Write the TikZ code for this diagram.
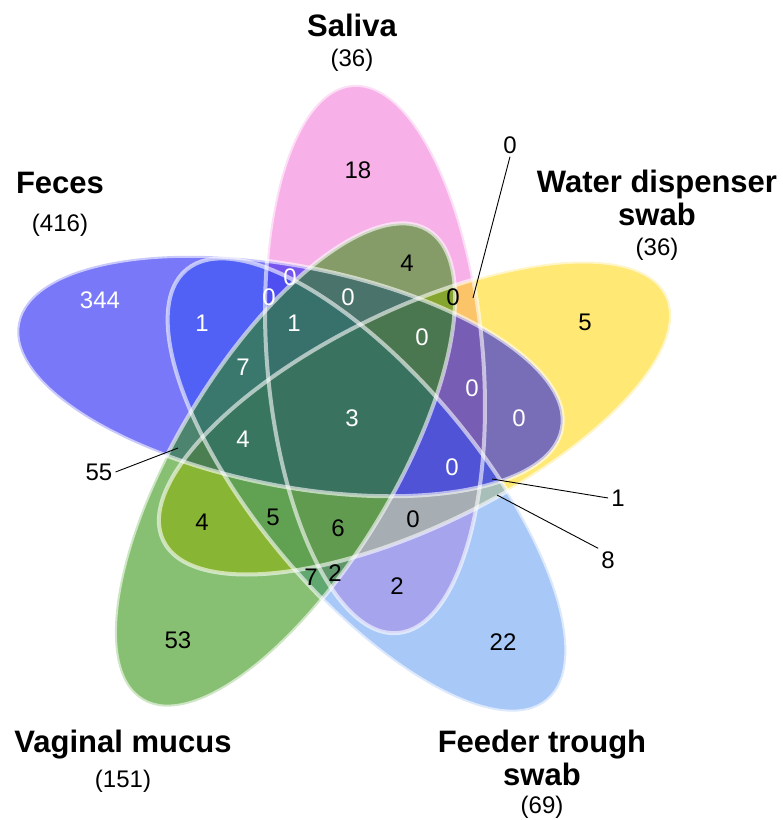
\documentclass[tikz,border=0pt]{standalone}
\usepackage{fontspec}
\setmainfont{Liberation Sans}
\usetikzlibrary{positioning}

\definecolor{feces}{RGB}{10,10,242}
\definecolor{saliva}{RGB}{242,111,213}
\definecolor{water}{RGB}{255,213,0}
\definecolor{trough}{RGB}{97,155,242}
\definecolor{mucus}{RGB}{39,141,0}

\begin{document}
\begin{tikzpicture}[
        x=1pt, y=-1pt,
        setfill/.style={fill=#1, fill opacity=0.55},
        rim/.style={draw=white, draw opacity=0.6, line width=4pt},
        num/.style={font=\fontsize{24}{26}\selectfont, inner sep=1pt},
        wnum/.style={num, text=white},
        lbl/.style={num, inner sep=3pt},
        setname/.style={font=\bfseries\fontsize{31}{33}\selectfont, align=center},
        total/.style={font=\fontsize{24}{26}\selectfont},
        leader/.style={line width=0.9pt},
    ]
        \useasboundingbox (0,0) rectangle (783,820);

        % the five sets
        \path[setfill=saliva, shift={(375,359)}, rotate=94.7] (0,0) ellipse [x radius=275, y radius=108];
        \path[setfill=water,  shift={(415,418)}, rotate=26]   (0,0) ellipse [x radius=280, y radius=108];
        \path[setfill=trough, shift={(367,485)}, rotate=-50]  (0,0) ellipse [x radius=281, y radius=110];
        \path[setfill=feces,  shift={(290,376)}, rotate=169]  (0,0) ellipse [x radius=277, y radius=110];
        \path[setfill=mucus,  shift={(285,465)}, rotate=58.7] (0,0) ellipse [x radius=275, y radius=108];

        \path[rim, shift={(375,359)}, rotate=94.7] (0,0) ellipse [x radius=275, y radius=108];
        \path[rim, shift={(415,418)}, rotate=26]   (0,0) ellipse [x radius=280, y radius=108];
        \path[rim, shift={(367,485)}, rotate=-50]  (0,0) ellipse [x radius=281, y radius=110];
        \path[rim, shift={(290,376)}, rotate=169]  (0,0) ellipse [x radius=277, y radius=110];
        \path[rim, shift={(285,465)}, rotate=58.7] (0,0) ellipse [x radius=275, y radius=108];

        % set names
        \node[setname] (saliva) at (352,25) {Saliva};
        \node[total, below=6pt of saliva] (salivaN) {(36)};
        \node[setname] (feces) at (60,183) {Feces};
        \node[total, below=13pt of feces] (fecesN) {(416)};
        \node[setname] (water) at (657,198) {Water dispenser\\swab};
        \node[total, below=5pt of water] (waterN) {(36)};
        \node[setname] (mucus) at (123,745) {Vaginal mucus};
        \node[total, below=4pt of mucus] (mucusN) {(151)};
        \node[setname] (trough) at (542,758) {Feeder trough\\swab};
        \node[total, below=3pt of trough] (troughN) {(69)};

        % region counts
        \node[wnum] (fOnly) at (100,300) {344};
        \node[num]  (sOnly) at (358,170) {18};
        \node[num]  (wOnly) at (585,322) {5};
        \node[num]  (tOnly) at (503,642) {22};
        \node[num]  (vOnly) at (178,640) {53};

        \node[wnum] (r1)  at (202,323) {1};
        \node[wnum] (r2)  at (290,277) {0};
        \node[wnum] (r3)  at (269,297) {0};
        \node[wnum] (r4)  at (348,297) {0};
        \node[wnum] (r5)  at (294,323) {1};
        \node[wnum] (r6)  at (422,337) {0};
        \node[wnum] (r7)  at (243,367) {7};
        \node[wnum] (r8)  at (352,418) {3};
        \node[wnum] (r9)  at (472,388) {0};
        \node[wnum] (r10) at (519,418) {0};
        \node[wnum] (r11) at (243,439) {4};
        \node[wnum] (r12) at (452,467) {0};
        \node[num]  (r13) at (407,263) {4};
        \node[num]  (r14) at (453,297) {0};
        \node[num]  (r15) at (202,522) {4};
        \node[num]  (r16) at (273,517) {5};
        \node[num]  (r17) at (338,528) {6};
        \node[num]  (r18) at (413,519) {0};
        \node[num]  (r19) at (311,577) {7};
        \node[num]  (r20) at (335,573) {2};
        \node[num]  (r21) at (397,586) {2};

        % counts of the small regions, with leaders
        \coordinate (p0)  at (473,298);
        \coordinate (p55) at (178,448);
        \coordinate (p1)  at (492,479);
        \coordinate (p8)  at (497,495);
        \node[lbl] (n0)  at (510,145) {0};
        \node[lbl] (n55) at (99,472)  {55};
        \node[lbl] (n1)  at (618,498) {1};
        \node[lbl] (n8)  at (608,560) {8};
        \draw[leader] (p0) -- (n0.south);
        \draw[leader] (p55) -- (n55.east);
        \draw[leader] (p1) -- (n1.west);
        \draw[leader] (p8) -- (n8.north west);
    \end{tikzpicture}
\end{document}
